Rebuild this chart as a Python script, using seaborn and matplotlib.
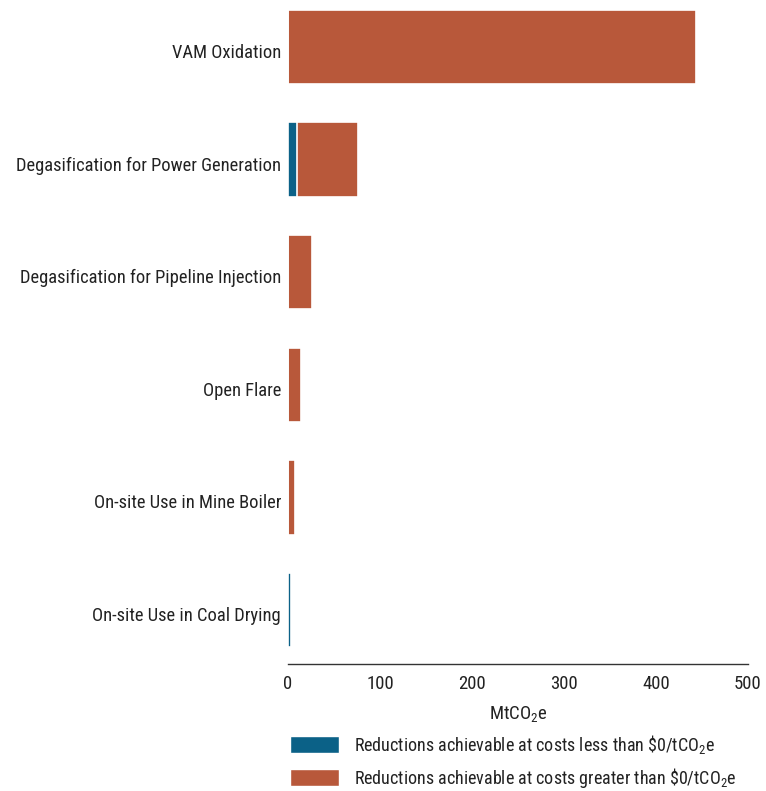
import numpy as np
import pandas as pd
import seaborn as sns
from matplotlib import pyplot as plt
from matplotlib import font_manager
from matplotlib import transforms
from matplotlib.patches import Patch

categories = ["VAM Oxidation", "Degasification for Power Generation",
              "Degasification for Pipeline Injection", "Open Flare",
              "On-site Use in Mine Boiler", "On-site Use in Coal Drying"]
below_zero = [0, 10, 0, 0, 0, 3]
above_zero = [443, 66, 26, 14, 8, 0]
legend_labels = ["Reductions achievable at costs less than \\$0/tCO$_2$e",
                 "Reductions achievable at costs greater than \\$0/tCO$_2$e"]
blue = "#0B6187"
orange = "#B8583A"

sns.set_theme(style="white")
# look for a narrow / condensed face
cands = [f for f in font_manager.fontManager.ttflist
         if ("Condensed" in f.fname or "Narrow" in f.fname)
         and "Bold" not in f.fname and "Oblique" not in f.fname
         and "Italic" not in f.fname]
cands.sort(key=lambda f: (0 if "Roboto" in f.fname else 1 if "Liberation" in f.fname else 2))
if cands:
    font, stretch = cands[0].name, cands[0].stretch
else:
    font, stretch = "DejaVu Sans", "normal"
plt.rcParams["font.family"] = [font, "DejaVu Sans"]
plt.rcParams["font.stretch"] = stretch
plt.rcParams["mathtext.fontset"] = "custom"
plt.rcParams["mathtext.rm"] = font
plt.rcParams["mathtext.it"] = font

df = pd.DataFrame({"cat": categories,
                   "below": below_zero,
                   "total": np.array(below_zero) + np.array(above_zero)})

fig = plt.figure(figsize=(7.66, 7.91), dpi=100)
ax = fig.add_axes([0.376, 0.1605, 0.6005, 0.8395])
sns.barplot(data=df, y="cat", x="total", color=orange, saturation=1,
            width=0.66, edgecolor="white", linewidth=1.2, ax=ax)
sns.barplot(data=df, y="cat", x="below", color=blue, saturation=1,
            width=0.66, edgecolor="white", linewidth=1.2, ax=ax)
ax.set_xlim(0, 500)
ax.set_ylim(5.48, -0.418)
ax.set_xticks([0, 100, 200, 300, 400, 500])
for s in ["top", "right", "left"]:
    ax.spines[s].set_visible(False)
ax.spines["bottom"].set_color("#333333")
ax.spines["bottom"].set_linewidth(1.0)
ax.tick_params(axis="x", length=0, labelsize=13.5, colors="#222222", pad=8)
ax.tick_params(axis="y", length=0, labelsize=13.3, colors="#222222", pad=5)
# labels sit a little lower than the bar centres in the original
shift = transforms.ScaledTranslation(0, -4 / 100, fig.dpi_scale_trans)
for lab in ax.get_yticklabels():
    lab.set_transform(lab.get_transform() + shift)
ax.set_ylabel("")
ax.set_xlabel("MtCO$_2$e", fontsize=13.5, color="#222222", labelpad=8)

handles = [Patch(facecolor=blue, label=legend_labels[0]),
           Patch(facecolor=orange, label=legend_labels[1])]
fig.legend(handles=handles, loc="upper left", bbox_to_anchor=(0.3786, 0.0735),
           frameon=False, fontsize=13.0, handlelength=2.7, handleheight=1.1,
           handletextpad=0.85, labelspacing=0.55, borderaxespad=0,
           borderpad=0, labelcolor="#222222")

plt.savefig("out.png", dpi=100)
